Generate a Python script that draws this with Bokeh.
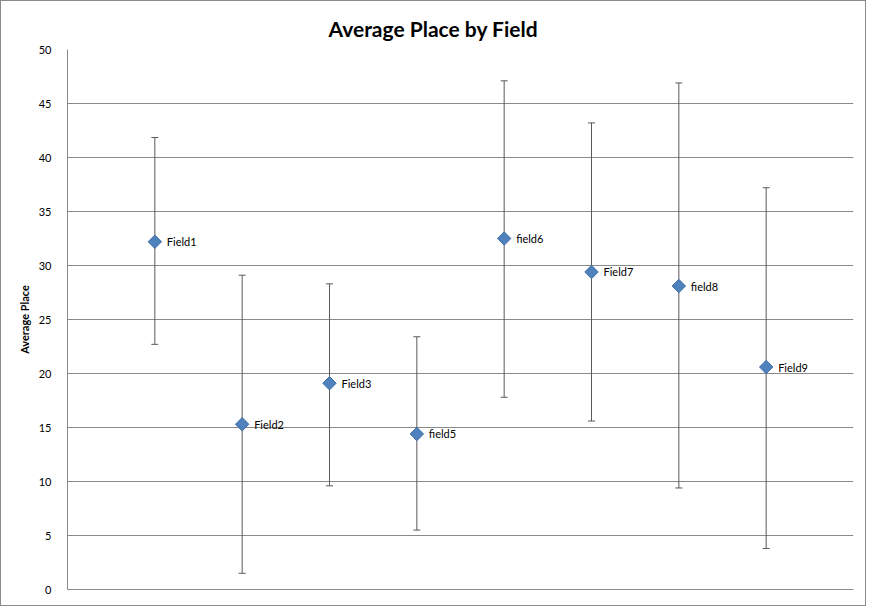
import numpy as np
from bokeh.plotting import figure
from bokeh.models import ColumnDataSource, Range1d, Whisker, TeeHead, LabelSet
from bokeh.core.properties import value
from bokeh.embed import file_html
from bokeh.resources import INLINE

# Data
fields = ["Field1", "Field2", "Field3", "field5", "field6", "Field7", "field8", "Field9"]
avg_place = [32.2, 15.3, 19.1, 14.4, 32.5, 29.4, 28.1, 20.6]
upper = [41.85, 29.1, 28.3, 23.4, 47.1, 43.2, 46.9, 37.2]
lower = [22.7, 1.5, 9.6, 5.5, 17.8, 15.6, 9.4, 3.8]
y_ticks = [0, 5, 10, 15, 20, 25, 30, 35, 40, 45, 50]

xpos = list(np.arange(1, len(fields) + 1))
src = ColumnDataSource(dict(x=xpos, y=avg_place, up=upper, lo=lower, name=fields))

FONT = "Lato"

p = figure(width=866, height=606, output_backend="svg", toolbar_location=None,
           x_range=Range1d(0, len(fields) + 1), y_range=Range1d(0, 50),
           min_border_left=66, min_border_right=14, min_border_top=48, min_border_bottom=18)

p.title.text = "Average Place by Field"
p.title.align = "left"
p.title.offset = 261
p.title.vertical_align = "top"
p.title.text_font = FONT
p.title.text_font_size = "21px"
p.title.text_font_style = "bold"
p.title.text_color = "black"
p.title.standoff = 13

p.outline_line_color = None
p.background_fill_color = "white"
p.border_fill_color = "white"

# grid
p.xgrid.grid_line_color = None
p.ygrid.grid_line_color = "#8a8a8a"
p.ygrid.grid_line_width = 1

# y axis
p.yaxis.ticker = y_ticks
p.yaxis.axis_line_color = "#8a8a8a"
p.yaxis.major_tick_line_color = None
p.yaxis.minor_tick_line_color = None
p.yaxis.major_label_text_font = FONT
p.yaxis.major_label_text_font_size = "11px"
p.yaxis.major_label_text_color = "black"
p.yaxis.major_label_standoff = 10
p.yaxis.axis_label = "Average Place"
p.yaxis.axis_label_text_font = FONT
p.yaxis.axis_label_text_font_size = "11px"
p.yaxis.axis_label_text_font_style = "bold"
p.yaxis.axis_label_text_color = "black"
p.yaxis.axis_label_standoff = 5

# x axis: line only
p.xaxis.axis_line_color = "#8a8a8a"
p.xaxis.major_tick_line_color = None
p.xaxis.minor_tick_line_color = None
p.xaxis.major_label_text_font_size = "0px"
p.xaxis.ticker = []

# error bars
w = Whisker(source=src, base="x", upper="up", lower="lo", dimension="height",
            line_color="#5a5a5a", line_width=1,
            upper_head=TeeHead(size=7, line_color="#5a5a5a", line_width=1),
            lower_head=TeeHead(size=7, line_color="#5a5a5a", line_width=1))
p.add_layout(w)

# markers (diamonds)
p.scatter("x", "y", source=src, marker="square", angle=np.pi / 4, size=9.5,
          fill_color="#4f81bd", line_color="#3f6fa8", line_width=1)

labels = LabelSet(x="x", y="y", text="name", source=src, x_offset=12,
                  text_baseline="middle", text_font=value(FONT),
                  text_font_size="11px", text_color="black")
p.add_layout(labels)

p.styles = {"border": "1px solid #8a8a8a"}

open("out.html", "w").write(file_html(p, INLINE))
